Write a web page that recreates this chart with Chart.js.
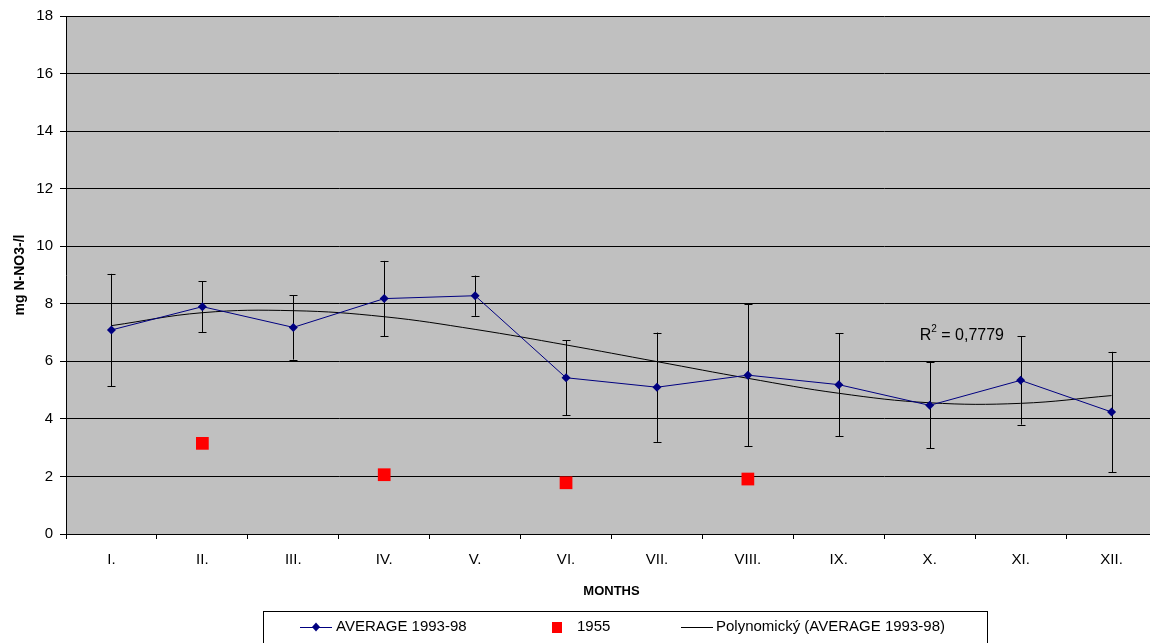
<!DOCTYPE html>
<html>
<head>
<meta charset="utf-8">
<script src="https://cdn.jsdelivr.net/npm/chart.js"></script>
<style>
  html, body { margin: 0; padding: 0; background: #fff; overflow: hidden; }
  #wrap { width: 1166px; height: 643px; }
</style>
</head>
<body>
<div id="wrap"><canvas id="nitrateChart" width="1166" height="643"></canvas></div>
<script>
// === DATA ===
const months = ["I.", "II.", "III.", "IV.", "V.", "VI.", "VII.", "VIII.", "IX.", "X.", "XI.", "XII."];
const average9398 = [7.09, 7.90, 7.18, 8.18, 8.28, 5.43, 5.10, 5.52, 5.19, 4.47, 5.34, 4.24];
const averageErr = [1.95, 0.88, 1.12, 1.31, 0.70, 1.31, 1.90, 2.47, 1.79, 1.49, 1.54, 2.09];
const year1955 = [null, 3.15, null, 2.06, null, 1.78, null, 1.91, null, null, null, null];
const polyTrend = [7.24, 7.69, 7.76, 7.55, 7.11, 6.57, 5.99, 5.41, 4.89, 4.56, 4.54, 4.81];
const rSquared = "0,7779";

const FONT = "'Liberation Sans', Arial, sans-serif";
const NAVY = "#000080";

// gray plot background
const plotBg = {
  id: "plotBg",
  beforeDraw(chart) {
    const { ctx, chartArea: a } = chart;
    ctx.save();
    ctx.fillStyle = "#c0c0c0";
    ctx.fillRect(a.left, a.top, a.right - a.left, a.bottom - a.top);
    ctx.restore();
  }
};

// vertical error bars for the average series
const errorBars = {
  id: "errorBars",
  beforeDatasetsDraw(chart) {
    const { ctx, scales: { x, y } } = chart;
    ctx.save();
    ctx.strokeStyle = "#000";
    ctx.lineWidth = 1;
    average9398.forEach((v, i) => {
      const px = Math.round(x.getPixelForValue(i)) + 0.5;
      const top = y.getPixelForValue(v + averageErr[i]);
      const bot = y.getPixelForValue(v - averageErr[i]);
      ctx.beginPath();
      ctx.moveTo(px, top); ctx.lineTo(px, bot);
      ctx.moveTo(px - 4, Math.round(top) + 0.5); ctx.lineTo(px + 4, Math.round(top) + 0.5);
      ctx.moveTo(px - 4, Math.round(bot) + 0.5); ctx.lineTo(px + 4, Math.round(bot) + 0.5);
      ctx.stroke();
    });
    ctx.restore();
  }
};

// R² label of the trend line
const r2Label = {
  id: "r2Label",
  afterDatasetsDraw(chart) {
    const { ctx, scales: { x, y } } = chart;
    const lx = x.getPixelForValue(9) - 10;
    const ly = y.getPixelForValue(6.9);
    ctx.save();
    ctx.fillStyle = "#000";
    ctx.textBaseline = "middle";
    ctx.font = "16px " + FONT;
    ctx.fillText("R", lx, ly);
    const w1 = ctx.measureText("R").width;
    ctx.font = "10px " + FONT;
    ctx.fillText("2", lx + w1, ly - 6);
    const w2 = ctx.measureText("2").width;
    ctx.font = "16px " + FONT;
    ctx.fillText(" = " + rSquared, lx + w1 + w2, ly);
    ctx.restore();
  }
};

// boxed legend under the axis title
const boxLegend = {
  id: "boxLegend",
  afterDraw(chart) {
    const { ctx } = chart;
    ctx.save();
    ctx.fillStyle = "#fff";
    ctx.fillRect(263.5, 611.5, 724, 50);
    ctx.strokeStyle = "#000";
    ctx.lineWidth = 1;
    ctx.strokeRect(263.5, 611.5, 724, 50);
    const cy = 627;
    // AVERAGE 1993-98
    ctx.strokeStyle = NAVY;
    ctx.beginPath(); ctx.moveTo(300, cy + 0.5); ctx.lineTo(332, cy + 0.5); ctx.stroke();
    ctx.fillStyle = NAVY;
    ctx.beginPath();
    ctx.moveTo(316, cy - 4.5); ctx.lineTo(320, cy); ctx.lineTo(316, cy + 4.5); ctx.lineTo(312, cy);
    ctx.closePath(); ctx.fill();
    // 1955
    ctx.fillStyle = "#ff0000";
    ctx.fillRect(552, cy - 5, 10, 11);
    // Polynomický
    ctx.strokeStyle = "#000";
    ctx.beginPath(); ctx.moveTo(681, cy + 0.5); ctx.lineTo(713, cy + 0.5); ctx.stroke();
    ctx.fillStyle = "#000";
    ctx.font = "15px " + FONT;
    ctx.textBaseline = "middle";
    ctx.fillText("AVERAGE 1993-98", 336, cy);
    ctx.fillText("1955", 577, cy);
    ctx.fillText("Polynomický (AVERAGE 1993-98)", 716, cy);
    ctx.restore();
  }
};

new Chart(document.getElementById("nitrateChart"), {
  type: "line",
  data: {
    labels: months,
    datasets: [
      {
        label: "AVERAGE 1993-98",
        data: average9398,
        borderColor: NAVY,
        backgroundColor: NAVY,
        borderWidth: 1,
        pointStyle: "rectRot",
        pointRadius: 4.5,
        pointBorderWidth: 0,
        tension: 0,
        order: 1
      },
      {
        label: "1955",
        data: year1955,
        showLine: false,
        backgroundColor: "#ff0000",
        borderColor: "#ff0000",
        pointStyle: "rect",
        pointRadius: 9,
        pointBorderWidth: 0,
        order: 2
      },
      {
        label: "Polynomický (AVERAGE 1993-98)",
        data: polyTrend,
        borderColor: "#000",
        borderWidth: 1,
        pointRadius: 0,
        tension: 0.4,
        order: 3
      }
    ]
  },
  options: {
    responsive: false,
    animation: false,
    layout: { padding: { top: 16, right: 0, bottom: 0, left: 0 } },
    plugins: { legend: { display: false }, tooltip: { enabled: false } },
    scales: {
      x: {
        offset: true,
        grid: { offset: true, drawOnChartArea: false, color: "#000", tickLength: 5 },
        border: { color: "#000" },
        ticks: { color: "#000", font: { family: FONT, size: 15 }, padding: 12, maxRotation: 0 },
        title: {
          display: true, text: "MONTHS", color: "#000",
          font: { family: FONT, size: 13, weight: "bold" },
          padding: { top: 0, bottom: 44 }
        },
        afterFit(scale) { scale.height = 109; }
      },
      y: {
        min: 0,
        max: 18,
        ticks: { stepSize: 2, color: "#000", font: { family: FONT, size: 15 }, padding: 7 },
        grid: { color: "#000", tickLength: 6 },
        border: { color: "#000" },
        title: {
          display: true, text: "mg N-NO3-/l", color: "#000",
          font: { family: FONT, size: 14, weight: "bold" },
          padding: { top: 12, bottom: 0 }
        },
        afterFit(scale) { scale.width = 66; }
      }
    }
  },
  plugins: [plotBg, errorBars, r2Label, boxLegend]
});
</script>
</body>
</html>
